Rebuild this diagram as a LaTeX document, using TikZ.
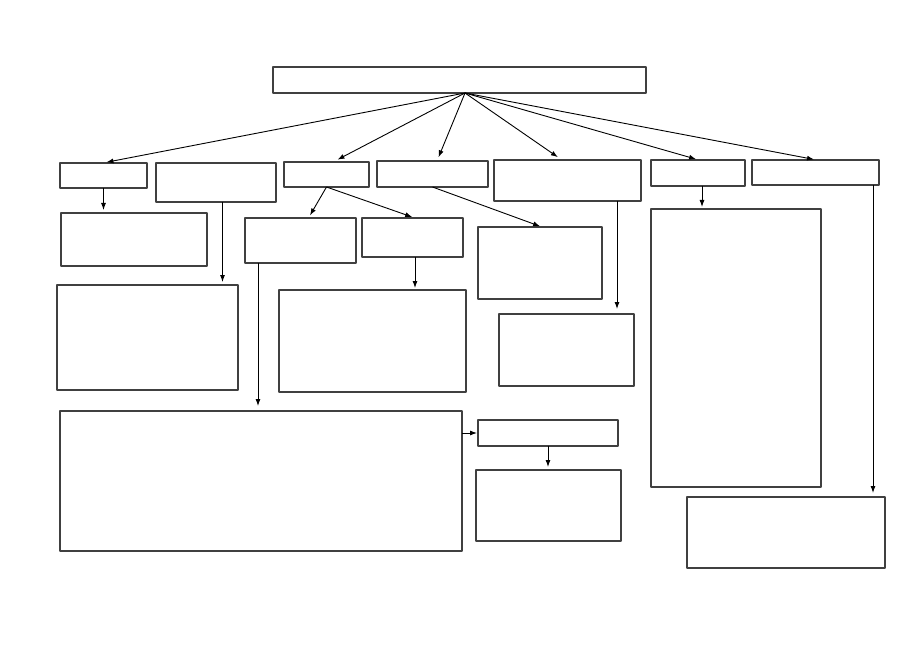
\documentclass[tikz,border=0pt]{standalone}
\usetikzlibrary{arrows.meta,fit}
\begin{document}
\begin{tikzpicture}[x=1pt,y=-1pt,>={Latex[length=7pt,width=5pt]}, line join=round]
	\tikzset{box/.style={draw=black!75, line width=1.1pt, inner sep=0pt, outer sep=0pt},
		arr/.style={->, draw=black, line width=0.9pt, shorten >=3pt}}
	\newcommand\cell[5]{\node[box, fit={(#2,#3) (#4,#5)}] (#1) {};}
	\useasboundingbox (0,0) rectangle (919,650);
	% top
	\cell{top}{273}{67}{646}{93}
	% first row
	\cell{b1}{60}{163}{147}{188}
	\cell{b2}{156}{163}{276}{202}
	\cell{b3}{284}{162}{369}{187}
	\cell{b4}{377}{161}{488}{187}
	\cell{b5}{494}{160}{641}{201}
	\cell{b6}{651}{160}{745}{186}
	\cell{b7}{752}{160}{879}{185}
	% second row
	\cell{c1}{61}{213}{207}{266}
	\cell{c2}{245}{218}{356}{263}
	\cell{c3}{362}{218}{463}{257}
	\cell{c4}{478}{227}{602}{299}
	\cell{d1}{57}{285}{238}{390}
	\cell{d2}{279}{290}{466}{392}
	\cell{e1}{499}{314}{634}{386}
	\cell{h1}{651}{209}{821}{487}
	% bottom
	\cell{f1}{60}{411}{462}{551}
	\cell{g1}{478}{420}{618}{446}
	\cell{g2}{476}{470}{621}{541}
	\cell{k1}{687}{497}{885}{568}
	%
	\coordinate (hub) at ([xshift=5.5pt]top.south);
	\draw[arr, shorten >=4pt] (hub) -- ([xshift=-1pt]b1.north);
	\draw[arr, shorten >=5pt] (hub) -- ([xshift=6.5pt]b3.north);
	\draw[arr, shorten >=4pt] (hub) -- ([xshift=4.5pt]b4.north);
	\draw[arr, shorten >=5pt] (hub) -- ([xshift=-5.5pt]b5.north);
	\draw[arr] (hub) -- ([xshift=1pt]b6.north);
	\draw[arr] (hub) -- ([xshift=1.5pt]b7.north);
	%
	\draw[arr] (b1.south) -- (b1.south |- c1.north);
	\draw[arr] ([xshift=6.5pt]b2.south) -- ([xshift=6.5pt]b2.south |- d1.north);
	\draw[arr] (b3.south) -- ([xshift=8pt]c2.north);
	\draw[arr] (b3.south) -- ([xshift=2.5pt]c3.north);
	\draw[arr, shorten >=2pt] (b4.south) -- ([xshift=2pt]c4.north);
	\draw[arr, shorten >=5pt] ([xshift=-24pt]b5.south east) -- ([xshift=-24pt]b5.south east |- e1.north);
	\draw[arr, shorten >=2pt] ([xshift=2.5pt]c3.south) -- ([xshift=2.5pt]c3.south |- d2.north);
	\draw[arr, shorten >=5pt] ([xshift=13pt]c2.south west) -- ([xshift=13pt]c2.south west |- f1.north);
	\draw[arr, shorten >=1pt] (f1.east |- g1.west) -- (g1.west);
	\draw[arr] (g1.south) -- (g1.south |- g2.north);
	\draw[arr, shorten >=2pt] ([xshift=4pt]b6.south) -- ([xshift=4pt]b6.south |- h1.north);
	\draw[arr, shorten >=4pt] ([xshift=-6pt]b7.south east) -- ([xshift=-6pt]b7.south east |- k1.north);
\end{tikzpicture}
\end{document}
